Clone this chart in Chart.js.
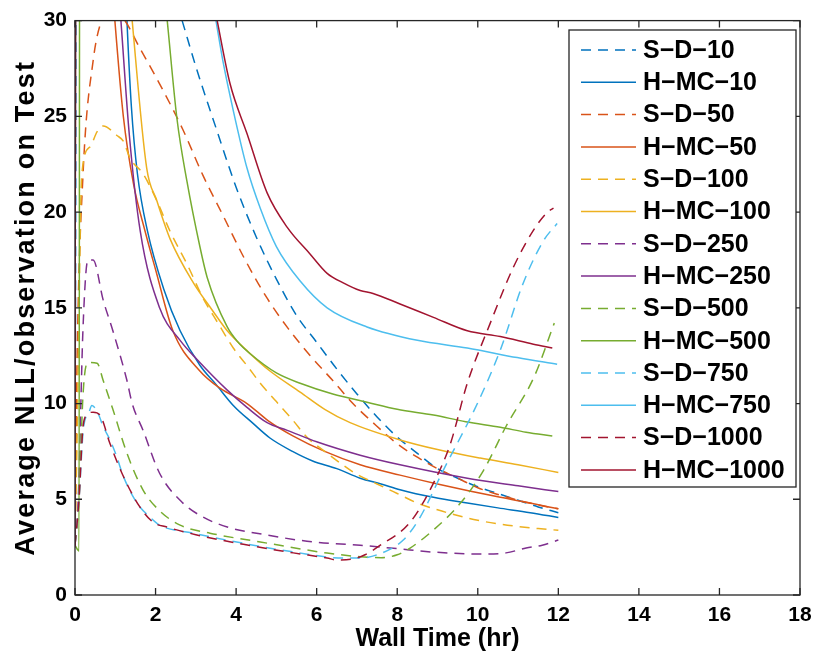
<!DOCTYPE html>
<html>
<head>
<meta charset="utf-8">
<script src="https://cdn.jsdelivr.net/npm/chart.js@4/dist/chart.umd.min.js"></script>
<style>
  html, body { margin: 0; padding: 0; background: #fff; }
  #wrap { width: 822px; height: 659px; }
</style>
</head>
<body>
<div id="wrap"><canvas id="nllChart" width="822" height="659"></canvas></div>
<script>
// Axis ticks
const xTicks = [0, 2, 4, 6, 8, 10, 12, 14, 16, 18];
const yTicks = [0, 5, 10, 15, 20, 25, 30];

// Series labels (legend order)
const labels = ['S−D−10', 'H−MC−10', 'S−D−50', 'H−MC−50', 'S−D−100', 'H−MC−100', 'S−D−250',
                'H−MC−250', 'S−D−500', 'H−MC−500', 'S−D−750', 'H−MC−750', 'S−D−1000', 'H−MC−1000'];

// Wall time (hr) / NLL values, one pair per series
const sd10X = [0, 0.05, 2.3, 2.66, 3.0, 3.5, 4.0, 4.5, 5.0, 5.5, 6.0, 6.5, 7.0, 7.5, 8.0, 8.5, 9.0, 9.5, 10.0, 10.5, 11.0, 11.5, 12.0];
const sd10Y = [2.6, 45, 32.5, 30, 27.6, 24.4, 21.3, 18.7, 16.5, 14.6, 13.2, 11.8, 10.5, 9.3, 8.25, 7.4, 6.6, 6.1, 5.65, 5.3, 4.95, 4.6, 4.3];

const hmc10X = [0, 0.02, 1.2, 1.29, 1.4, 1.55, 1.8, 2.2, 2.61, 3.1, 3.5, 3.93, 4.4, 4.84, 5.4, 5.9, 6.5, 7.08, 7.6, 8.07, 8.9, 9.74, 10.5, 11.3, 12.0];
const hmc10Y = [2.5, 45, 35, 30, 25.5, 22.0, 19.0, 16.0, 13.8, 12.0, 11.0, 9.9, 9.0, 8.2, 7.5, 7.0, 6.6, 6.1, 5.8, 5.5, 5.1, 4.8, 4.55, 4.3, 4.05];

const sd50X = [0, 0.05, 0.2, 0.45, 0.7, 0.95, 1.24, 1.6, 2.1, 2.68, 3.18, 3.68, 4.2, 4.77, 5.3, 5.84, 6.4, 6.9, 7.4, 8.0, 8.5, 9.0, 9.5, 10.0, 10.5, 11.0, 11.5, 12.0];
const sd50Y = [2.6, 12, 22, 27.9, 30.2, 30.6, 30, 28.6, 26.7, 24.3, 21.9, 19.8, 17.6, 15.5, 13.9, 12.5, 11.2, 10.0, 9.0, 7.9, 7.2, 6.6, 6.1, 5.6, 5.25, 4.95, 4.7, 4.5];

const hmc50X = [0, 0.02, 0.85, 0.99, 1.2, 1.45, 1.74, 2.0, 2.43, 3.1, 3.6, 4.27, 4.8, 5.42, 6.2, 7.08, 8.07, 9.0, 10.56, 11.3, 12.0];
const hmc50Y = [2.5, 45, 34, 30, 25, 21.5, 19.0, 17.0, 13.8, 11.7, 10.8, 10.0, 9.1, 8.3, 7.5, 6.8, 6.26, 5.8, 5.1, 4.8, 4.5];

const sd100X = [0, 0.05, 0.17, 0.37, 0.55, 0.7, 1.04, 1.2, 1.37, 1.69, 2.03, 2.36, 2.8, 3.18, 3.55, 3.93, 4.3, 4.6, 5.0, 5.42, 5.76, 6.2, 6.58, 7.0, 7.5, 8.0, 8.5, 9.0, 9.5, 10.0, 10.56, 11.0, 11.5, 12.0];
const sd100Y = [2.6, 8, 22, 23.4, 24.2, 24.5, 24.0, 23.7, 22.8, 22.0, 20.6, 19.0, 17.2, 15.5, 14.2, 12.9, 11.9, 11.06, 10.1, 9.1, 8.24, 7.5, 6.9, 6.3, 5.8, 5.3, 4.8, 4.45, 4.15, 3.9, 3.7, 3.58, 3.47, 3.38];

const hmc100X = [0, 0.02, 1.3, 1.42, 1.78, 2.03, 2.36, 2.94, 3.4, 3.78, 4.3, 4.84, 5.59, 6.2, 6.83, 8.07, 9.0, 10.06, 11.0, 12.0];
const hmc100Y = [2.5, 45, 33, 30, 22.3, 20.6, 18.6, 16.3, 14.9, 13.8, 12.7, 11.7, 10.6, 9.7, 9.0, 8.1, 7.6, 7.15, 6.8, 6.4];

const sd250X = [0, 0.08, 0.2, 0.32, 0.45, 0.7, 0.94, 1.29, 1.42, 1.69, 2.1, 2.68, 3.18, 3.78, 4.77, 5.91, 7.08, 8.0, 8.9, 10.1, 10.7, 11.2, 11.6, 12.0];
const sd250Y = [2.6, 5, 14, 17.5, 17.5, 15.4, 13.8, 11.2, 10.0, 8.6, 6.36, 4.8, 4.07, 3.55, 3.13, 2.77, 2.6, 2.42, 2.24, 2.14, 2.2, 2.45, 2.6, 2.87];

const hmc250X = [0, 0.02, 1.0, 1.14, 1.35, 1.62, 2.1, 2.61, 3.03, 3.78, 4.27, 4.77, 5.27, 6.0, 7.08, 8.07, 9.74, 11.0, 12.0];
const hmc250Y = [2.5, 45, 34, 30, 24, 19.0, 15.0, 13.3, 12.3, 10.7, 9.8, 9.0, 8.6, 8.0, 7.3, 6.8, 6.1, 5.7, 5.4];

const sd500X = [0, 0.1, 0.2, 0.32, 0.55, 0.7, 0.94, 1.29, 1.69, 2.1, 2.61, 3.35, 4.6, 6.26, 7.08, 7.6, 8.0, 8.32, 8.9, 9.57, 10.14, 10.7, 11.4, 11.9];
const sd500Y = [2.6, 5, 10.5, 12.15, 12.1, 11.2, 9.7, 7.4, 5.48, 4.4, 3.65, 3.23, 2.77, 2.19, 2.0, 1.95, 2.1, 2.45, 3.4, 4.8, 6.5, 8.8, 11.4, 14.2];

const hmc500X = [0, 0.1, 0.12, 2.1, 2.29, 2.53, 2.78, 3.1, 3.28, 3.78, 4.05, 4.35, 5.0, 5.59, 6.4, 7.25, 8.0, 8.9, 9.7, 10.56, 11.2, 11.85];
const hmc500Y = [2.6, 2.3, 45, 34, 30, 24.9, 21.6, 18.2, 16.6, 14.0, 13.2, 12.6, 11.6, 11.06, 10.5, 10.07, 9.7, 9.4, 9.05, 8.76, 8.5, 8.3];

const sd750X = [0, 0.1, 0.2, 0.27, 0.32, 0.42, 0.57, 0.7, 0.87, 1.04, 1.2, 1.54, 1.86, 2.1, 2.94, 4.18, 5.42, 6.66, 7.08, 7.5, 8.15, 8.57, 9.14, 9.99, 10.56, 11.13, 11.63, 11.97];
const sd750Y = [2.6, 5, 8.5, 9.3, 9.4, 9.9, 9.5, 8.8, 8.1, 7.2, 6.2, 4.8, 4.07, 3.65, 3.23, 2.7, 2.25, 1.93, 1.93, 2.1, 2.87, 4.07, 6.5, 10.0, 12.8, 16.3, 18.5, 19.4];

const hmc750X = [0, 0.02, 3.3, 3.5, 3.68, 3.93, 4.27, 4.6, 5.0, 5.59, 6.26, 7.25, 8.5, 9.74, 10.98, 11.97];
const hmc750Y = [2.5, 45, 32.5, 30, 27.8, 25.3, 22.3, 20.2, 18.2, 16.4, 15.0, 14.0, 13.3, 12.9, 12.4, 12.05];

const sd1000X = [0, 0.1, 0.2, 0.3, 0.45, 0.62, 0.87, 1.2, 1.61, 1.94, 2.28, 3.0, 4.18, 5.42, 6.26, 6.5, 6.9, 7.2, 7.58, 8.32, 8.9, 9.32, 9.74, 10.31, 10.88, 11.38, 11.73, 11.88];
const sd1000Y = [2.6, 5, 8.8, 9.4, 9.55, 9.4, 7.9, 6.2, 4.6, 3.8, 3.55, 3.15, 2.65, 2.2, 1.93, 1.83, 1.88, 2.1, 2.6, 3.8, 5.84, 7.9, 11.06, 14.2, 17.1, 19.04, 20.0, 20.2];

const hmc1000X = [0, 0.02, 3.3, 3.53, 3.85, 4.27, 4.77, 5.27, 5.84, 6.26, 6.66, 7.08, 7.4, 8.07, 8.9, 9.74, 10.56, 11.38, 11.85];
const hmc1000Y = [2.5, 45, 32.5, 30, 26.7, 24.1, 21.0, 19.2, 17.8, 16.8, 16.3, 15.9, 15.75, 15.2, 14.5, 13.8, 13.5, 13.1, 12.9];

// MATLAB default colour order
const colors = ['#0072BD', '#D95319', '#EDB120', '#7E2F8E', '#77AC30', '#4DBEEE', '#A2142F'];

const seriesX = [sd10X, hmc10X, sd50X, hmc50X, sd100X, hmc100X, sd250X, hmc250X, sd500X, hmc500X, sd750X, hmc750X, sd1000X, hmc1000X];
const seriesY = [sd10Y, hmc10Y, sd50Y, hmc50Y, sd100Y, hmc100Y, sd250Y, hmc250Y, sd500Y, hmc500Y, sd750Y, hmc750Y, sd1000Y, hmc1000Y];

const FONT = '"Liberation Sans", Arial, Helvetica, sans-serif';

const datasets = labels.map((label, i) => ({
    label: label,
    data: seriesX[i].map((x, j) => ({ x: x, y: seriesY[i][j] })),
    borderColor: colors[Math.floor(i / 2)],
    borderWidth: 1.5,
    borderDash: i % 2 === 0 ? [10, 7] : [],
    pointRadius: 0,
    fill: false,
    cubicInterpolationMode: 'monotone',
    order: labels.length - i
}));

// Box round the axes with inward ticks on all four sides
const matlabAxes = {
    id: 'matlabAxes',
    afterDatasetsDraw(chart) {
        const { ctx, chartArea: a, scales } = chart;
        const len = 7;
        ctx.save();
        ctx.strokeStyle = '#262626';
        ctx.lineWidth = 1.3;
        ctx.strokeRect(a.left, a.top, a.right - a.left, a.bottom - a.top);
        ctx.beginPath();
        xTicks.forEach(v => {
            const px = scales.x.getPixelForValue(v);
            ctx.moveTo(px, a.bottom); ctx.lineTo(px, a.bottom - len);
            ctx.moveTo(px, a.top); ctx.lineTo(px, a.top + len);
        });
        yTicks.forEach(v => {
            const py = scales.y.getPixelForValue(v);
            ctx.moveTo(a.left, py); ctx.lineTo(a.left + len, py);
            ctx.moveTo(a.right, py); ctx.lineTo(a.right - len, py);
        });
        ctx.stroke();

        // y axis label, spaced out like the original
        ctx.translate(27, (a.top + a.bottom) / 2);
        ctx.rotate(-Math.PI / 2);
        ctx.fillStyle = '#000';
        ctx.font = 'bold 27px ' + FONT;
        ctx.letterSpacing = '2.2px';
        ctx.textAlign = 'center';
        ctx.textBaseline = 'middle';
        ctx.fillText('Average NLL/observation on Test', 0, 0);
        ctx.restore();
    }
};

// Legend box inside the axes, top right
const insideLegend = {
    id: 'insideLegend',
    afterDraw(chart) {
        const { ctx } = chart;
        const box = { left: 569, top: 30, right: 796, bottom: 487 };
        const rowTop = 50, pitch = 32.3;
        ctx.save();
        ctx.fillStyle = '#fff';
        ctx.fillRect(box.left, box.top, box.right - box.left, box.bottom - box.top);
        ctx.strokeStyle = '#262626';
        ctx.lineWidth = 1.3;
        ctx.strokeRect(box.left, box.top, box.right - box.left, box.bottom - box.top);
        chart.data.datasets.forEach((ds, i) => {
            const y = rowTop + i * pitch;
            ctx.beginPath();
            ctx.setLineDash(ds.borderDash);
            ctx.strokeStyle = ds.borderColor;
            ctx.lineWidth = 1.5;
            ctx.moveTo(581, y);
            ctx.lineTo(636, y);
            ctx.stroke();
            ctx.setLineDash([]);
            ctx.fillStyle = '#000';
            ctx.font = 'bold 25px ' + FONT;
            ctx.textAlign = 'left';
            ctx.textBaseline = 'middle';
            ctx.fillText(ds.label, 643, y + 1);
        });
        ctx.restore();
    }
};

new Chart(document.getElementById('nllChart').getContext('2d'), {
    type: 'line',
    data: { datasets: datasets },
    options: {
        responsive: false,
        animation: false,
        layout: { padding: { left: 0, top: 20, right: 22, bottom: 0 } },
        plugins: {
            legend: { display: false },
            tooltip: { enabled: false }
        },
        scales: {
            x: {
                type: 'linear',
                min: 0,
                max: 18,
                afterFit: scale => { scale.height = 64; },
                afterBuildTicks: scale => { scale.ticks = xTicks.map(v => ({ value: v })); },
                grid: { display: false, drawTicks: false },
                border: { display: false },
                ticks: { color: '#000', padding: 8, maxRotation: 0, font: { family: FONT, size: 21, weight: 'bold' } },
                title: {
                    display: true,
                    text: 'Wall Time (hr)',
                    color: '#000',
                    padding: { top: 0, bottom: 5 },
                    font: { family: FONT, size: 25, weight: 'bold' }
                }
            },
            y: {
                type: 'linear',
                min: 0,
                max: 30,
                afterFit: scale => { scale.width = 75; },
                afterBuildTicks: scale => { scale.ticks = yTicks.map(v => ({ value: v })); },
                grid: { display: false, drawTicks: false },
                border: { display: false },
                ticks: { color: '#000', padding: 8, font: { family: FONT, size: 21, weight: 'bold' } },
                title: { display: false }
            }
        }
    },
    plugins: [matlabAxes, insideLegend]
});
</script>
</body>
</html>
